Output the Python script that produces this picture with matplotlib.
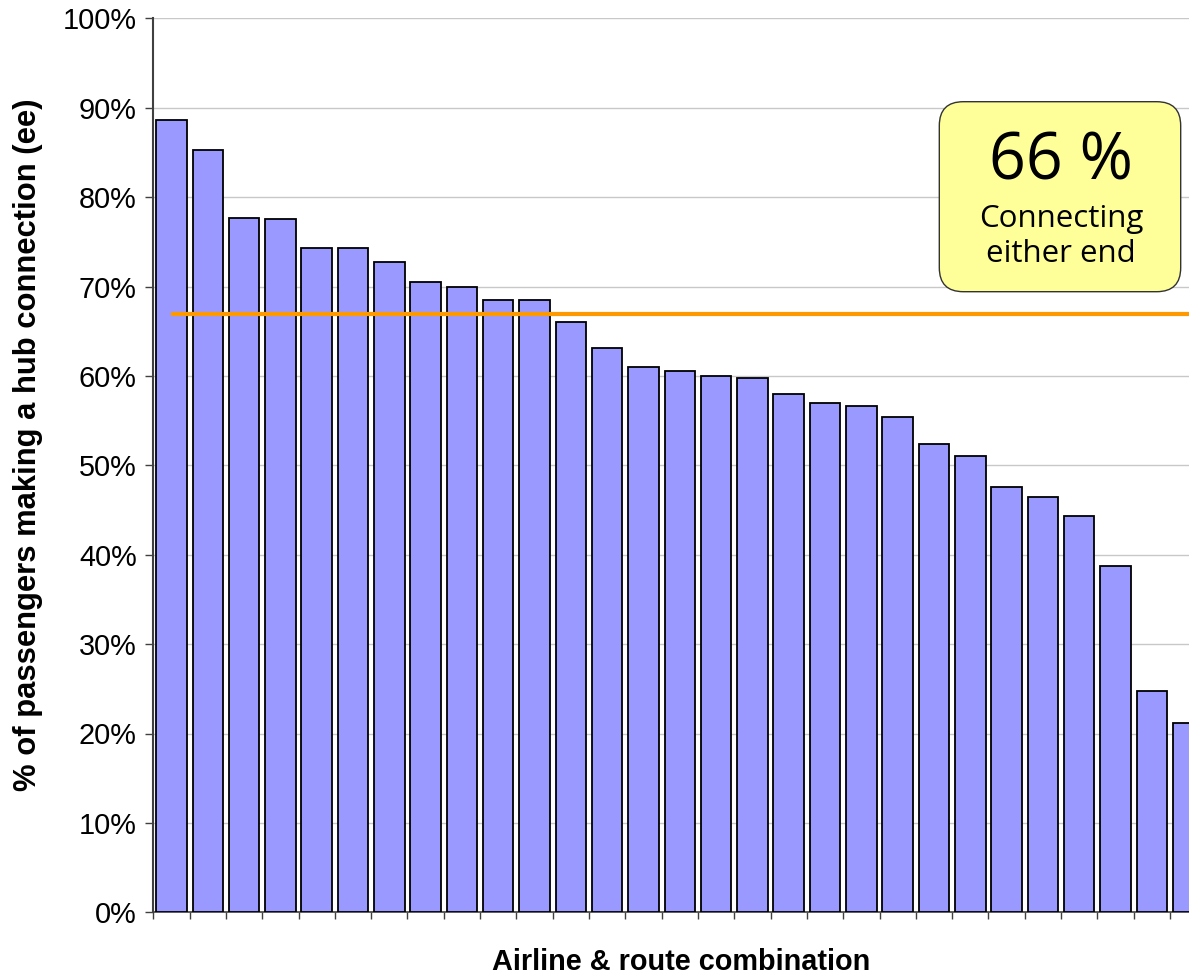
import matplotlib.pyplot as plt
from matplotlib.patches import FancyBboxPatch
from matplotlib.ticker import FuncFormatter

# share of passengers making a hub connection, one bar per airline/route combination
share_pct = [88.6, 85.3, 77.7, 77.5, 74.3, 74.3, 72.7, 70.5, 70.0, 68.5,
             68.5, 66.0, 63.1, 61.0, 60.6, 60.0, 59.8, 58.0, 57.0, 56.6,
             55.4, 52.4, 51.0, 47.6, 46.5, 44.3, 38.7, 24.8, 21.2]
average_pct = 66.9
box_title = "66 %"
box_lines = ["Connecting", "either end"]

plt.rcParams['font.family'] = ['Liberation Sans', 'DejaVu Sans']

fig = plt.figure(figsize=(11.89, 9.76), dpi=100)
ax = fig.add_axes([153.3 / 1189, 63.7 / 976, (1189 - 153.3) / 1189, 894.0 / 976])

x = list(range(len(share_pct)))
ax.bar(x, share_pct, width=0.84, color='#9999FF', edgecolor='black',
       linewidth=1.3, zorder=3)
ax.plot([0, len(share_pct) + 2], [average_pct, average_pct],
        color='#FF9900', linewidth=3, zorder=4, solid_capstyle='butt')

ax.set_yticks(range(0, 101, 10))
ax.yaxis.set_major_formatter(FuncFormatter(lambda v, p: f"{v:.0f}%"))
ax.set_xticks([i - 0.5 for i in range(len(share_pct) + 1)])
ax.set_xticklabels([])
# limits after the ticks so the tick list does not widen the view
ax.set_ylim(0, 100)
ax.set_xlim(-0.5, -0.5 + (1189 - 153.3) / 36.31)
ax.tick_params(axis='y', direction='out', length=6, width=1, labelsize=20.8,
               color='#404040', pad=6)
ax.tick_params(axis='x', direction='out', length=5, width=1, color='#404040')
ax.grid(axis='y', color='#C8C8C8', linewidth=1, zorder=0)
ax.set_axisbelow(True)

for side in ['top', 'right']:
    ax.spines[side].set_visible(False)
ax.spines['left'].set_color('#404040')
ax.spines['left'].set_linewidth(1.5)
ax.spines['bottom'].set_color('#404040')
ax.spines['bottom'].set_linewidth(1.2)

fig.text(28 / 1189, 1 - 445 / 976, "% of passengers making a hub connection (ee)",
         fontsize=22.3, fontweight='bold', rotation=90, ha='center', va='center')
fig.text(681 / 1189, 1 - 962 / 976, "Airline & route combination", fontsize=20.8,
         fontweight='bold', ha='center', va='center')

# callout box with the overall figure
box = FancyBboxPatch((9.393, 6.843), 2.414, 1.90,
                     boxstyle="round,pad=0,rounding_size=0.24",
                     transform=fig.dpi_scale_trans, facecolor='#FFFF99',
                     edgecolor='#333333', linewidth=1.0, zorder=10)
fig.patches.append(box)
fig.text(1061 / 1189, 1 - 163 / 976, box_title, fontsize=46.5, family='Open Sans',
         ha='center', va='center', zorder=11)
for line, ypix in zip(box_lines, [219, 254]):
    fig.text(1061 / 1189, 1 - ypix / 976, line, fontsize=22.5, family='Open Sans',
             ha='center', va='center', zorder=11)

fig.savefig('out.png', dpi=100)
